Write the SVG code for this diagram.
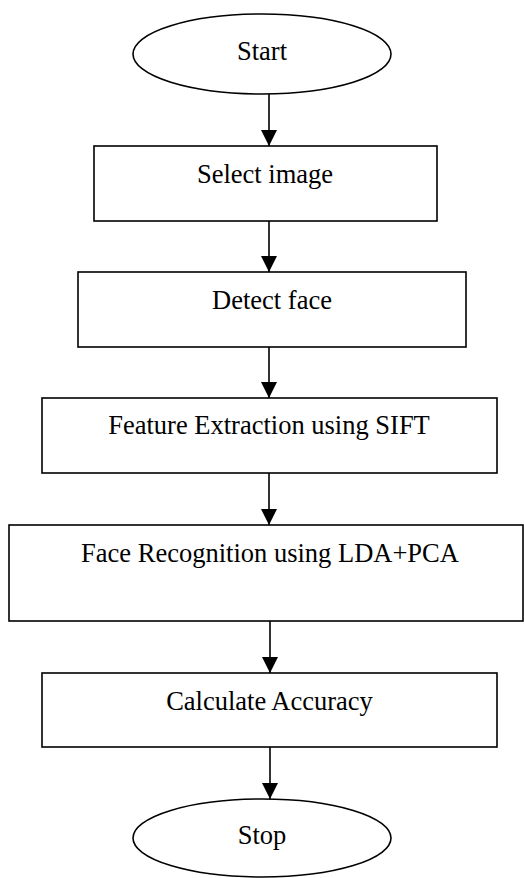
<svg xmlns="http://www.w3.org/2000/svg" width="524" height="878" viewBox="0 0 524 878">
<style>
.shape{fill:#fff;stroke:#000;stroke-width:1.6}
.lbl{font-family:"Liberation Serif","Times New Roman",serif;font-size:26.5px;fill:#000;text-anchor:middle}
.conn{stroke:#000;stroke-width:1.6;fill:none}
</style>
<defs>
<marker id="arr" markerUnits="userSpaceOnUse" markerWidth="16" markerHeight="16" viewBox="0 0 16 16" refX="16" refY="8" orient="auto">
<path d="M0,0 L16,8 L0,16 Z" fill="#000"/>
</marker>
</defs>
<rect width="524" height="878" fill="#fff"/>
<g id="start"><ellipse class="shape" cx="262" cy="54" rx="129" ry="40"/><text class="lbl" x="262" y="60">Start</text></g>
<g id="select"><rect class="shape" x="94" y="146" width="343" height="75"/><text class="lbl" x="265" y="183">Select image</text></g>
<g id="detect"><rect class="shape" x="78" y="272" width="388" height="75"/><text class="lbl" x="272" y="309">Detect face</text></g>
<g id="feature"><rect class="shape" x="42" y="398" width="455" height="75"/><text class="lbl" x="269" y="434">Feature Extraction using SIFT</text></g>
<g id="recognition"><rect class="shape" x="9" y="525" width="514" height="96"/><text class="lbl" x="270" y="562">Face Recognition using LDA+PCA</text></g>
<g id="accuracy"><rect class="shape" x="42" y="673" width="455" height="74"/><text class="lbl" x="269.5" y="710">Calculate Accuracy</text></g>
<g id="stop"><ellipse class="shape" cx="262" cy="838" rx="129" ry="39"/><text class="lbl" x="262" y="844">Stop</text></g>
<g id="connectors">
<line class="conn" x1="269" y1="94" x2="269" y2="146" marker-end="url(#arr)"/>
<line class="conn" x1="269" y1="221" x2="269" y2="272" marker-end="url(#arr)"/>
<line class="conn" x1="269" y1="347" x2="269" y2="398" marker-end="url(#arr)"/>
<line class="conn" x1="269" y1="473" x2="269" y2="525" marker-end="url(#arr)"/>
<line class="conn" x1="270" y1="621" x2="270" y2="673" marker-end="url(#arr)"/>
<line class="conn" x1="270" y1="747" x2="270" y2="799" marker-end="url(#arr)"/>
</g>
</svg>
